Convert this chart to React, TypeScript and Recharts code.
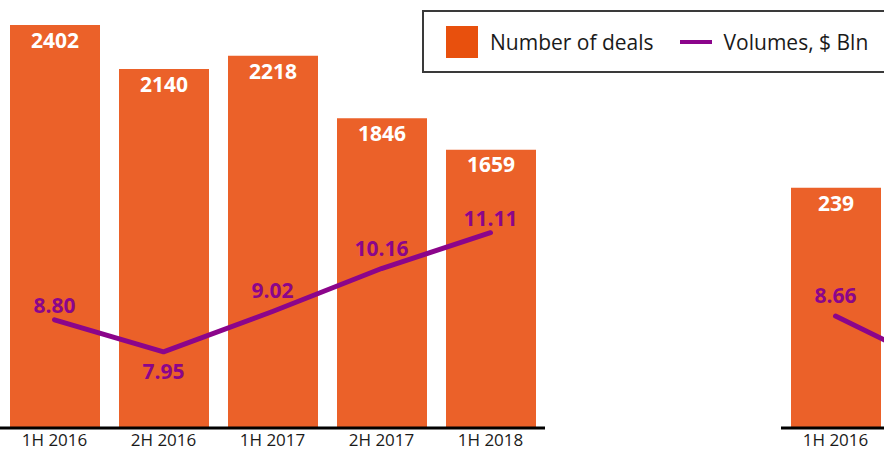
import { ComposedChart, Bar, Line, XAxis, YAxis, LabelList, Legend } from 'recharts';

// Half-year periods
const PERIODS = ['1H 2016', '2H 2016', '1H 2017', '2H 2017', '1H 2018'];

// Left panel
const DEALS_A = [2402, 2140, 2218, 1846, 1659];
const VOLUMES_A = [8.8, 7.95, 9.02, 10.16, 11.11];

// Right panel (only the first period is visible in the crop)
const DEALS_B = [239, 215, 226, 201, 180];
const VOLUMES_B = [8.66, 7.25, 8.4, 9.6, 10.5];

const BAR_COLOR = '#EB6129';
const SWATCH_COLOR = '#E8500D';
const LINE_COLOR = '#8B058B';
const FONT = '"Open Sans", "Noto Sans", sans-serif';

const buildRows = (deals: number[], volumes: number[]) =>
  PERIODS.map((period, i) => ({ period, deals: deals[i], volumes: volumes[i] }));

const dataA = buildRows(DEALS_A, VOLUMES_A);
const dataB = buildRows(DEALS_B, VOLUMES_B);

// gap between point and its label (negative = below the point)
const LABEL_GAP_A = [7, -11, 14, 13, 7];
const LABEL_GAP_B = [13, 13, 13, 13, 13];

const makeVolumeLabel = (gaps: number[], shown: number) => (props: any) => {
  const { x, y, value, index } = props;
  if (index >= shown) return null;
  const gap = gaps[index] ?? 10;
  const below = gap < 0;
  return (
    <text
      x={x}
      y={y - gap}
      dy={below ? '0.75em' : 0}
      textAnchor="middle"
      fill={LINE_COLOR}
      fontFamily={FONT}
      fontWeight={700}
      fontSize={21}
    >
      {Number(value).toFixed(2)}
    </text>
  );
};

const makeDealsLabel = (shown: number) => (props: any) => {
  const { x, y, width, value, index } = props;
  if (index >= shown) return null;
  return (
    <text
      x={x + width / 2}
      y={y + 6}
      dy="0.8em"
      textAnchor="middle"
      fill="#fff"
      fontFamily={FONT}
      fontWeight={700}
      fontSize={21}
    >
      {value}
    </text>
  );
};

const LegendBox = () => (
  <div
    style={{
      display: 'flex',
      alignItems: 'center',
      height: 59,
      border: '2px solid #3a3a3a',
      paddingLeft: 22,
      fontFamily: FONT,
      fontSize: 21,
      color: '#1a1a1a',
      background: '#fff',
      whiteSpace: 'nowrap',
    }}
  >
    <span style={{ width: 32, height: 32, background: SWATCH_COLOR, marginRight: 12 }} />
    <span style={{ marginRight: 26 }}>Number of deals</span>
    <span style={{ width: 32, height: 4, background: LINE_COLOR, marginRight: 12 }} />
    <span>Volumes, $ Bln</span>
  </div>
);

const Panel = ({
  data,
  dealsMax,
  volumeDomain,
  labelGaps,
  shown,
  withLegend,
}: {
  data: any[];
  dealsMax: number;
  volumeDomain: [number, number];
  labelGaps: number[];
  shown: number;
  withLegend?: boolean;
}) => (
  <ComposedChart
    width={545}
    height={451}
    data={data}
    margin={{ top: 25, right: 0, bottom: 0, left: 0 }}
    barCategoryGap={19}
  >
    <XAxis
      dataKey="period"
      height={23}
      tickLine={false}
      tickMargin={0}
      axisLine={{ stroke: '#000', strokeWidth: 3 }}
      tick={{ fill: '#1a1a1a', fontSize: 17, fontFamily: FONT }}
      tickFormatter={(v: string, i: number) => (i < shown ? v : '')}
      interval={0}
    />
    <YAxis yAxisId="deals" hide domain={[0, dealsMax]} />
    <YAxis yAxisId="vol" hide orientation="right" domain={volumeDomain} allowDataOverflow />
    {withLegend && (
      <Legend
        layout="horizontal"
        verticalAlign="middle"
        align="center"
        wrapperStyle={{ top: 10, left: 422, width: 620 }}
        content={() => <LegendBox />}
      />
    )}
    <Bar yAxisId="deals" dataKey="deals" name="Number of deals" fill={BAR_COLOR} barSize={90} isAnimationActive={false}>
      <LabelList dataKey="deals" content={makeDealsLabel(shown)} />
    </Bar>
    <Line
      yAxisId="vol"
      dataKey="volumes"
      name="Volumes, $ Bln"
      stroke={LINE_COLOR}
      strokeWidth={5}
      strokeLinecap="round"
      strokeLinejoin="round"
      dot={false}
      activeDot={false}
      isAnimationActive={false}
    >
      <LabelList dataKey="volumes" content={makeVolumeLabel(labelGaps, shown)} />
    </Line>
  </ComposedChart>
);

export default function App() {
  return (
    <div
      style={{
        position: 'absolute',
        top: 0,
        left: 0,
        width: 884,
        height: 451,
        overflow: 'hidden',
        background: '#fff',
      }}
    >
      <div style={{ position: 'absolute', top: 0, left: 781 }}>
        <Panel data={dataB} dealsMax={401} volumeDomain={[5.69, 16.38]} labelGaps={LABEL_GAP_B} shown={1} />
      </div>
      <div style={{ position: 'absolute', top: 0, left: 0 }}>
        <Panel
          data={dataA}
          dealsMax={2402}
          volumeDomain={[5.93, 16.62]}
          labelGaps={LABEL_GAP_A}
          shown={PERIODS.length}
          withLegend
        />
      </div>
    </div>
  );
}
